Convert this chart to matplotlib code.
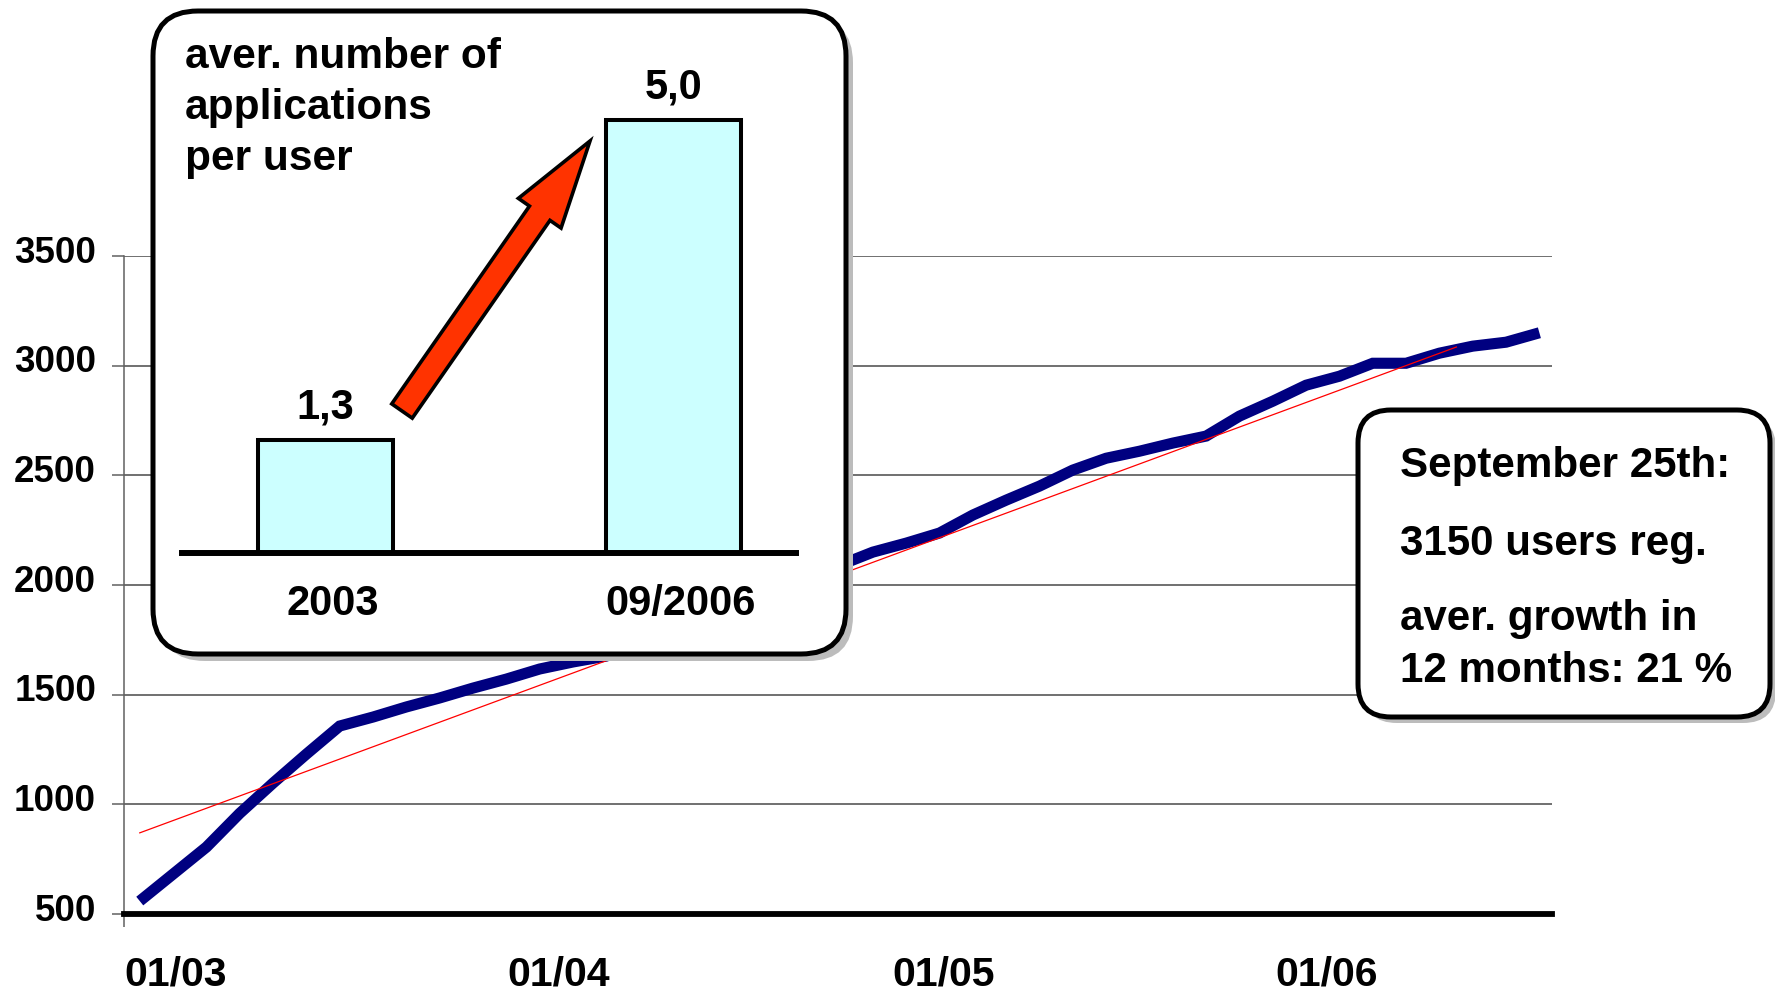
import matplotlib
matplotlib.use('Agg')
import matplotlib.pyplot as plt
import matplotlib.transforms as mtransforms
from matplotlib.patches import FancyBboxPatch, FancyArrow
import pandas as pd

plt.rcParams['font.family'] = ['Liberation Sans', 'DejaVu Sans']
plt.rcParams['font.weight'] = 'bold'

# Registered users, sampled at regular intervals from Jan 2003 to Sep 2006
users = [559, 682, 805, 959, 1097, 1229, 1357, 1398, 1444, 1485, 1530, 1571, 1617, 1649, 1676,
         1735, 1790, 1850, 1905, 1965, 2030, 2090,
         2150, 2191, 2237, 2319, 2387, 2451, 2524, 2578, 2610, 2647, 2679, 2770, 2838, 2911,
         2952, 3011, 3011, 3057, 3089, 3107, 3150]
first_sample = '2003-01-16'
last_sample = '2006-09-09'

# Linear trend of the registrations
trend_dates = ['2003-01-16', '2006-06-22']
trend_users = [870, 3085]

year_ticks = ['2003-01-01', '2004-01-01', '2005-01-01', '2006-01-01']
year_labels = ['01/03', '01/04', '01/05', '01/06']
user_ticks = [500, 1000, 1500, 2000, 2500, 3000, 3500]

# Average number of applications per user
apps_periods = ['2003', '09/2006']
apps_per_user = [1.3, 5.0]
apps_labels = ['1,3', '5,0']

title_lines = ['aver. number of', 'applications', 'per user']
note_lines = ['September 25th:', '3150 users reg.', 'aver. growth in', '12 months: 21 %']

W, H = 1775, 992
fig = plt.figure(figsize=(W / 100, H / 100), dpi=100)
fig.patch.set_facecolor('white')

# ---- main line chart -------------------------------------------------------
ax = fig.add_axes([124 / W, (H - 914) / H, (1552 - 124) / W, (914 - 256) / H], zorder=0)
dates = pd.date_range(first_sample, last_sample, periods=len(users))
ax.plot(dates, users, color='#000080', lw=8.0, solid_capstyle='butt',
        solid_joinstyle='miter', zorder=3)
ax.plot(pd.to_datetime(trend_dates), trend_users, color='#FF0000', lw=0.9, zorder=4)

ax.set_xlim(pd.Timestamp('2003-01-01'), pd.Timestamp('2006-09-21'))
ax.set_ylim(500, 3500)
ax.set_yticks(user_ticks)
ax.yaxis.grid(True, color='#707070', lw=1.4)
ax.set_axisbelow(True)
for side in ('top', 'right'):
    ax.spines[side].set_visible(False)
ax.spines['bottom'].set_linewidth(4.2)
ax.spines['bottom'].set_color('black')
ax.spines['left'].set_linewidth(1.1)
ax.spines['left'].set_color('#606060')
ax.tick_params(axis='y', length=8.6, width=1.1, color='#606060', pad=11.5, labelsize=26.5)
for lbl in ax.get_yticklabels():
    lbl.set_verticalalignment('center')
    lbl.set_transform(lbl.get_transform() +
                      mtransforms.ScaledTranslation(0, 2 / 72, fig.dpi_scale_trans))

ax.set_xticks(pd.to_datetime(year_ticks))
ax.set_xticklabels(year_labels, ha='left')
ax.tick_params(axis='x', which='major', length=0, pad=30, labelsize=29.5)
ax.xaxis.remove_overlapping_locs = False
ax.set_xticks([pd.Timestamp('2003-01-01')], minor=True)
ax.tick_params(axis='x', which='minor', length=9, width=1.1, color='#606060')

# ---- overlay for boxes, arrow and notes (pixel units) ----------------------
ov = fig.add_axes([0, 0, 1, 1], zorder=5)
ov.set_xlim(0, W)
ov.set_ylim(H, 0)
ov.axis('off')


def rounded_box(x0, y0, x1, y1, radius, shadow):
    style = f'round,pad=0,rounding_size={radius}'
    ov.add_patch(FancyBboxPatch((x0 + shadow, y0 + shadow), x1 - x0, y1 - y0,
                                boxstyle=style, fc='#bcbcbc', ec='none'))
    ov.add_patch(FancyBboxPatch((x0, y0), x1 - x0, y1 - y0, boxstyle=style,
                                fc='white', ec='black', lw=3.6))


rounded_box(153, 11, 846, 654, 45, 7)
rounded_box(1358, 410, 1770, 717, 33, 6)

ov.add_patch(FancyArrow(402, 411, 188, -270, width=25, head_width=52, head_length=88,
                        length_includes_head=True, fc='#FF3300', ec='black', lw=2.6,
                        joinstyle='miter'))

for line, base in zip(title_lines, [68, 119, 170]):
    ov.text(185, base, line, fontsize=30.5, fontweight='bold', ha='left', va='baseline')
for line, base in zip(note_lines, [477, 555, 630, 682]):
    ov.text(1400, base, line, fontsize=30.3, fontweight='bold', ha='left', va='baseline')

# ---- inset bar chart ------------------------------------------------------
bx = fig.add_axes([182 / W, (H - 553) / H, 614 / W, (553 - 60) / H], zorder=6)
bx.patch.set_visible(False)
bars = bx.bar([0, 1], apps_per_user, width=0.39, color='#CCFFFF', edgecolor='black', lw=2.9)
bx.set_xlim(-0.412, 1.352)
bx.set_ylim(0, 5.693)
bx.bar_label(bars, labels=apps_labels, padding=9, fontsize=30, fontweight='bold')
for side in ('top', 'right', 'left'):
    bx.spines[side].set_visible(False)
bx.spines['bottom'].set_linewidth(4.3)
bx.set_yticks([])
bx.set_xticks([0, 1])
bx.set_xticklabels(apps_periods)
bx.tick_params(axis='x', length=0, pad=22, labelsize=30)
for lbl in bx.get_xticklabels():
    lbl.set_transform(lbl.get_transform() +
                      mtransforms.ScaledTranslation(5 / 72, 0, fig.dpi_scale_trans))

fig.savefig('out.png', dpi=100)
